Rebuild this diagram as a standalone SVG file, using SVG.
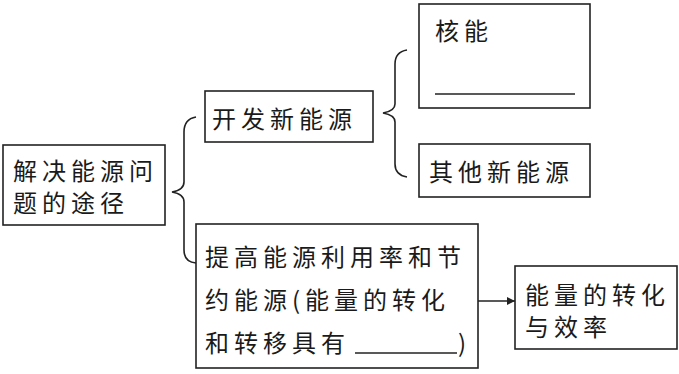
<svg xmlns="http://www.w3.org/2000/svg" width="679" height="374" viewBox="0 0 679 374">
<style>
.box{fill:#fff;stroke:#222;stroke-width:1.6}
.t{font-family:"Noto Sans CJK SC","Noto Sans CJK JP",sans-serif;font-size:24px;fill:#1a1a1a;letter-spacing:5px}
.ln{stroke:#222;stroke-width:1.6;fill:none}
</style>
<defs>
<marker id="arr" viewBox="0 0 10 10" refX="10" refY="5" markerWidth="8" markerHeight="8" markerUnits="userSpaceOnUse" orient="auto">
<path d="M0,0 L10,5 L0,10 Z" fill="#222"/>
</marker>
</defs>
<rect width="679" height="374" fill="#fff"/>
<g id="connectors">
<path class="ln" d="M196,117 Q184,119 184,132 L184,182 Q184,190 172,192 Q184,194 184,202 L184,250 Q184,262 196,263"/>
<path class="ln" d="M407,50 Q395,52 395,64 L395,104 Q395,111 383,113 Q395,115 395,122 L395,164 Q395,175 407,177"/>
<line class="ln" x1="478" y1="301" x2="515" y2="301" marker-end="url(#arr)"/>
</g>
<g id="node-root">
<rect class="box" x="3" y="145" width="162" height="80"/>
<text class="t" x="13" y="180">解决能源问</text>
<text class="t" x="13" y="212">题的途径</text>
</g>
<g id="node-new">
<rect class="box" x="205" y="91" width="168" height="51"/>
<text class="t" x="212" y="128">开发新能源</text>
</g>
<g id="node-nuclear">
<rect class="box" x="419" y="4" width="171" height="104"/>
<text class="t" x="435" y="40">核能</text>
<line class="ln" x1="435" y1="94" x2="575" y2="94"/>
</g>
<g id="node-other">
<rect class="box" x="419" y="144" width="171" height="53"/>
<text class="t" x="429" y="181">其他新能源</text>
</g>
<g id="node-save">
<rect class="box" x="196" y="224" width="282" height="144"/>
<text class="t" x="205" y="266">提高能源利用率和节</text>
<text class="t" x="205" y="309">约能源(能量的转化</text>
<text class="t" x="205" y="352">和转移具有</text>
<line class="ln" x1="355" y1="353" x2="457" y2="353"/>
<text class="t" x="458" y="352" style="letter-spacing:0">)</text>
</g>
<g id="node-eff">
<rect class="box" x="515" y="266" width="162" height="83"/>
<text class="t" x="525" y="304">能量的转化</text>
<text class="t" x="525" y="336">与效率</text>
</g>
</svg>
